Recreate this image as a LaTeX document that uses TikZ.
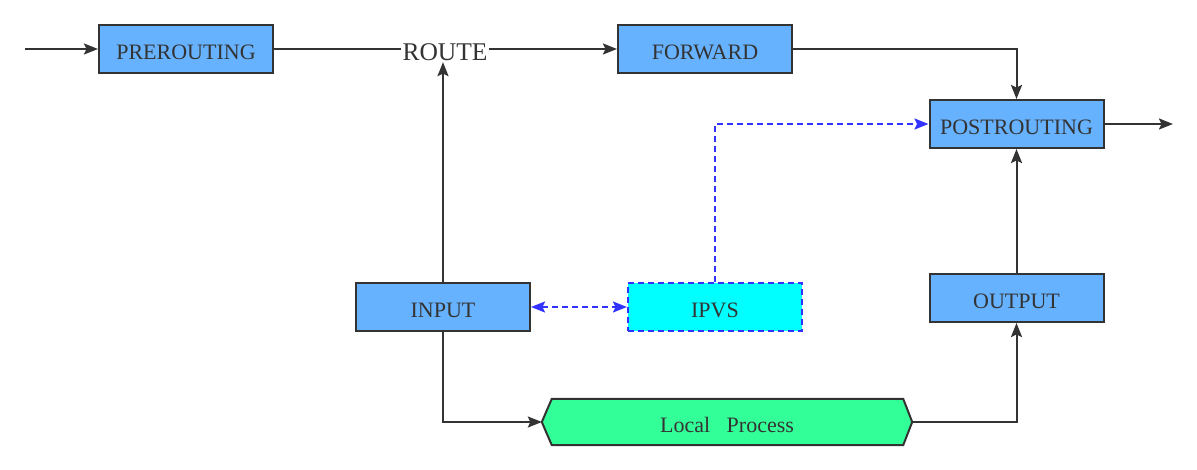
\documentclass[tikz,border=0pt]{standalone}
\usepackage{fontspec}
\setmainfont{Liberation Serif}
\usetikzlibrary{arrows.meta,backgrounds}
\definecolor{boxfill}{HTML}{66B2FF}
\definecolor{ink}{HTML}{333333}
\definecolor{dblue}{HTML}{3333FF}
\definecolor{lpgreen}{HTML}{33FF99}
\definecolor{ipvscyan}{HTML}{00FFFF}
\tikzset{
  tip/.tip={Stealth[length=14pt,width=11pt,inset=2.5pt]},
  box/.style={draw=ink, line width=2pt, fill=boxfill, text=ink, minimum width=174pt, minimum height=48pt,
    inner sep=0pt, font=\fontsize{22}{24}\selectfont, text height=20.5pt, text depth=0pt},
  ipvsbox/.style={box, draw=dblue, fill=ipvscyan, dashed, dash pattern=on 6pt off 4pt},
  conn/.style={draw=ink, line width=2pt, -tip},
  plain/.style={draw=ink, line width=2pt},
  dconn/.style={draw=dblue, line width=2pt, dash pattern=on 6pt off 4pt, -tip},
  ddconn/.style={draw=dblue, line width=2pt, dash pattern=on 6pt off 4pt, tip-tip},
}
\begin{document}
\begin{tikzpicture}[x=1pt,y=-1pt]
\useasboundingbox (0,0) rectangle (1197,470);
\node[box] (pre) at (186,49) {PREROUTING};
\node[box] (fwd) at (705,49) {FORWARD};
\node[box] (post) at (1016.5,124) {POSTROUTING};
\node[box] (in) at (443,307) {INPUT};
\node[ipvsbox] (ipvs) at (715,307) {IPVS};
\node[box] (out) at (1016.5,298) {OUTPUT};
\node[text=ink, font=\fontsize{25.5}{28}\selectfont, inner sep=1pt, text height=16.9pt, text depth=0pt] (route) at (445,52.5) {ROUTE};
\node[text=ink, font=\fontsize{22}{24}\selectfont, minimum width=370pt, minimum height=46pt, inner sep=0pt, text height=20.5pt, text depth=0pt] (lp) at (727,422) {Local\hspace{0.75em}Process};
\begin{scope}[on background layer]
\draw[draw=ink, line width=2pt, fill=lpgreen, line join=miter]
  (lp.west) -- ([xshift=10pt]lp.north west) -- ([xshift=-9pt]lp.north east) -- (lp.east)
  -- ([xshift=-9pt]lp.south east) -- ([xshift=10pt]lp.south west) -- cycle;
\end{scope}
\coordinate (start) at (25,49);
\coordinate (finish) at (1173,124);
\draw[conn] (start) -- (pre.west);
\draw[plain] (pre.east) -- (route.west |- pre.east);
\draw[conn] (route.east |- fwd.west) -- (fwd.west);
\draw[conn] (in.north) -- (in.north |- route.south);
\draw[conn] (fwd.east) -| (post.north);
\draw[conn] (post.east) -- (finish);
\draw[conn] (out.north) -- (post.south);
\draw[conn] (in.south) |- (lp.west);
\draw[conn] (lp.east) -| (out.south);
\draw[dconn] (ipvs.north) |- (post.west);
\draw[ddconn] (in.east) -- (ipvs.west);
\end{tikzpicture}
\end{document}
